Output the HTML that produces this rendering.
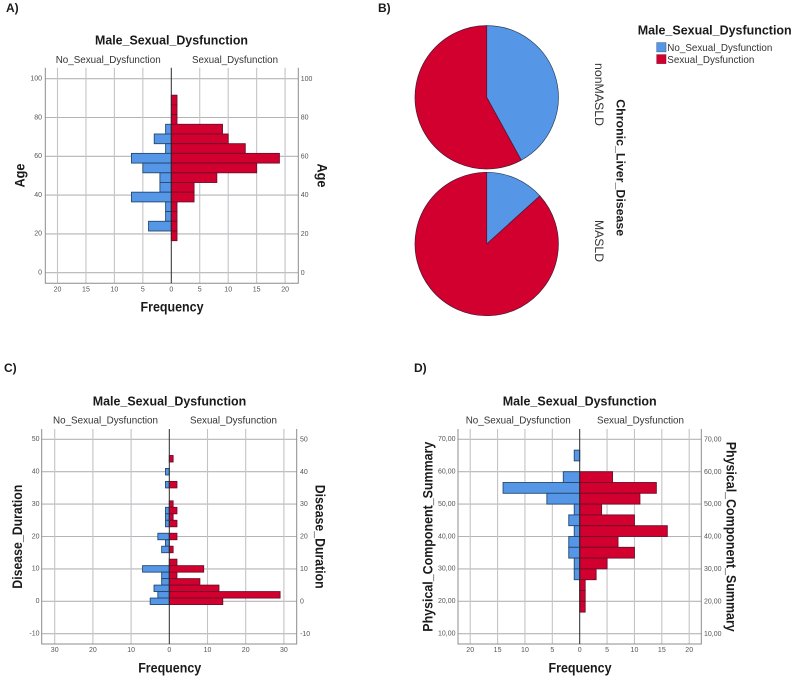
<!DOCTYPE html>
<html lang="en">
<head>
<meta charset="utf-8">
<title>Male Sexual Dysfunction charts</title>
<style>
html,body{margin:0;padding:0;background:#fff;width:792px;height:676px;overflow:hidden}
svg{display:block;filter:blur(.3px)}
text{font-family:"Liberation Sans",sans-serif;fill:#1a1a1a}
.title{font-size:13px;font-weight:bold}
.panel{font-size:12px;font-weight:bold}
.sub{font-size:10.5px;fill:#333}
.tick{font-size:7px;fill:#555}
.axis{font-size:13.5px;font-weight:bold}
</style>
</head>
<body>
<svg id="figure" xmlns="http://www.w3.org/2000/svg" width="792" height="676" viewBox="0 0 792 676">
  <rect width="792" height="676" fill="#fff"/>

  <text class="panel" x="6" y="12">A)</text>
  <g id="panel-a"></g>
  <text class="title" x="171.5" y="40" text-anchor="middle" dominant-baseline="central" textLength="153" lengthAdjust="spacingAndGlyphs">Male_Sexual_Dysfunction</text>
  <text class="sub" x="55.7" y="60" dominant-baseline="central" textLength="105" lengthAdjust="spacingAndGlyphs">No_Sexual_Dysfunction</text>
  <text class="sub" x="192" y="60" dominant-baseline="central" textLength="86" lengthAdjust="spacingAndGlyphs">Sexual_Dysfunction</text>
  <text class="axis" transform="translate(20,175.5) rotate(-90)" text-anchor="middle" dominant-baseline="central" textLength="24" lengthAdjust="spacingAndGlyphs">Age</text>
  <text class="axis" transform="translate(322,175.5) rotate(90)" text-anchor="middle" dominant-baseline="central" textLength="24" lengthAdjust="spacingAndGlyphs">Age</text>
  <text class="axis" x="172" y="307" text-anchor="middle" dominant-baseline="central" textLength="63" lengthAdjust="spacingAndGlyphs">Frequency</text>

  <text class="panel" x="378" y="12">B)</text>
  <g id="panel-b"></g>
  <text class="sub" transform="translate(598,94.5) rotate(90)" text-anchor="middle" dominant-baseline="central" textLength="63" lengthAdjust="spacingAndGlyphs" style="font-size:11.5px">nonMASLD</text>
  <text class="sub" transform="translate(598,241) rotate(90)" text-anchor="middle" dominant-baseline="central" textLength="42" lengthAdjust="spacingAndGlyphs" style="font-size:11.5px">MASLD</text>
  <text class="title" transform="translate(620.3,167.7) rotate(90)" text-anchor="middle" dominant-baseline="central" textLength="137" lengthAdjust="spacingAndGlyphs" style="font-size:12px">Chronic_Liver_Disease</text>
  <g>
    <text class="title" x="637.7" y="30" dominant-baseline="central" textLength="154" lengthAdjust="spacingAndGlyphs">Male_Sexual_Dysfunction</text>
    <rect x="656.7" y="42.6" width="9.3" height="9.3" fill="#5596e6" stroke="#33597f" stroke-width=".5"/>
    <text class="sub" x="667.3" y="48" dominant-baseline="central" textLength="105" lengthAdjust="spacingAndGlyphs">No_Sexual_Dysfunction</text>
    <rect x="656.7" y="54.6" width="9.3" height="9" fill="#d1002f" stroke="#7a1030" stroke-width=".5"/>
    <text class="sub" x="667.3" y="60" dominant-baseline="central" textLength="87" lengthAdjust="spacingAndGlyphs">Sexual_Dysfunction</text>
  </g>

  <text class="panel" x="4" y="372">C)</text>
  <g id="panel-c"></g>
  <text class="title" x="169.5" y="401" text-anchor="middle" dominant-baseline="central" textLength="153.5" lengthAdjust="spacingAndGlyphs">Male_Sexual_Dysfunction</text>
  <text class="sub" x="53" y="420.7" dominant-baseline="central" textLength="105" lengthAdjust="spacingAndGlyphs">No_Sexual_Dysfunction</text>
  <text class="sub" x="190" y="420.7" dominant-baseline="central" textLength="87" lengthAdjust="spacingAndGlyphs">Sexual_Dysfunction</text>
  <text class="axis" transform="translate(17.5,536.7) rotate(-90)" text-anchor="middle" dominant-baseline="central" textLength="104" lengthAdjust="spacingAndGlyphs">Disease_Duration</text>
  <text class="axis" transform="translate(320,536.7) rotate(90)" text-anchor="middle" dominant-baseline="central" textLength="104" lengthAdjust="spacingAndGlyphs">Disease_Duration</text>
  <text class="axis" x="169.7" y="668" text-anchor="middle" dominant-baseline="central" textLength="63" lengthAdjust="spacingAndGlyphs">Frequency</text>

  <text class="panel" x="414" y="372">D)</text>
  <g id="panel-d"></g>
  <text class="title" x="579.7" y="401" text-anchor="middle" dominant-baseline="central" textLength="154" lengthAdjust="spacingAndGlyphs">Male_Sexual_Dysfunction</text>
  <text class="sub" x="465.7" y="420.7" dominant-baseline="central" textLength="105" lengthAdjust="spacingAndGlyphs">No_Sexual_Dysfunction</text>
  <text class="sub" x="597" y="420.7" dominant-baseline="central" textLength="87" lengthAdjust="spacingAndGlyphs">Sexual_Dysfunction</text>
  <text class="axis" transform="translate(428,536.7) rotate(-90)" text-anchor="middle" dominant-baseline="central" textLength="190" lengthAdjust="spacingAndGlyphs">Physical_Component_Summary</text>
  <text class="axis" transform="translate(731,536.7) rotate(90)" text-anchor="middle" dominant-baseline="central" textLength="190" lengthAdjust="spacingAndGlyphs">Physical_Component_Summary</text>
  <text class="axis" x="580" y="668" text-anchor="middle" dominant-baseline="central" textLength="63" lengthAdjust="spacingAndGlyphs">Frequency</text>
</svg>
<script>
// Panel A: Age
const ageBinCenters = [89,84,79,74,69,64,59,54,49,44,39,34,29,24,19];
const ageBinWidth = 5;
const ageNoDysfunction = [0,0,0,1,3,1,7,5,2,2,7,1,1,4,0];
const ageDysfunction = [1,1,1,9,10,13,19,15,8,4,4,1,1,1,1];
const ageValueTicks = [0,20,40,60,80,100];
const ageValueLabels = ['0','20','40','60','80','100'];
const ageFreqTicks = [5,10,15,20];

// Panel B: pies (percent of each group)
const pieGroups = ['nonMASLD','MASLD'];
const pieNoDysfunction = [42,13.3];
const pieDysfunction = [58,86.7];

// Panel C: Disease duration
const durationBinCenters = [44,42,40,38,36,34,32,30,28,26,24,22,20,18,16,14,12,10,8,6,4,2,0];
const durationBinWidth = 2;
const durationNoDysfunction = [0,0,1,0,1,0,0,0,1,1,1,0,3,1,2,0,0,7,2,2,4,3,5];
const durationDysfunction = [1,0,0,0,2,0,0,1,2,1,2,0,2,0,1,0,2,9,2,8,13,29,14];
const durationValueTicks = [-10,0,10,20,30,40,50];
const durationValueLabels = ['-10','0','10','20','30','40','50'];
const durationFreqTicks = [10,20,30];

// Panel D: Physical component summary
const physicalBinCenters = [65,61.67,58.33,55,51.67,48.33,45,41.67,38.33,35,31.67,28.33,25,21.67,18.33];
const physicalBinWidth = 3.33;
const physicalNoDysfunction = [1,0,3,14,6,1,2,1,2,2,1,1,0,0,0];
const physicalDysfunction = [0,0,6,14,11,4,10,16,7,10,5,3,1,1,1];
const physicalValueTicks = [10,20,30,40,50,60,70];
const physicalValueLabels = ['10,00','20,00','30,00','40,00','50,00','60,00','70,00'];
const physicalFreqTicks = [5,10,15,20];

const NS = 'http://www.w3.org/2000/svg';
const BLUE = '#5596e6', RED = '#d1002f', BLUE_EDGE = '#24496f', RED_EDGE = '#6e0d2c';

function make(parent, tag, attrs, content) {
  const el = document.createElementNS(NS, tag);
  for (const k in attrs) el.setAttribute(k, attrs[k]);
  if (content !== undefined) el.textContent = content;
  parent.appendChild(el);
  return el;
}

function drawPyramid(id, prefix, centers, binWidth, leftVals, rightVals, valueTicks, valueLabels, freqTicks, layout) {
  const g = document.getElementById(id);
  const xScale = v => layout.cx + v * layout.pxPerFreq;
  const yScale = v => layout.yRefPx + (layout.yRef - v) * layout.pxPerValue;

  // value gridlines and labels
  valueTicks.forEach((t, i) => {
    const y = yScale(t);
    const grid = make(g, 'line', {x1: layout.left, x2: layout.right, y1: y, y2: y, stroke: '#b4b4b8', 'stroke-width': 1.1});
    
    
    const ll = make(g, 'text', {class: 'tick', x: layout.labelLeft, y: y + 0.3, 'text-anchor': 'end', 'dominant-baseline': 'central'}, valueLabels[i]);
    
    
    const lr = make(g, 'text', {class: 'tick', x: layout.labelRight, y: y + 0.6, 'dominant-baseline': 'central'}, valueLabels[i]);
    
    
  });

  // frequency gridlines and labels on both sides
  freqTicks.forEach(t => {
    [-t, t].forEach(v => {
      const x = xScale(v);
      const grid = make(g, 'line', {x1: x, x2: x, y1: layout.top, y2: layout.bottom, stroke: '#c4c4c8', 'stroke-width': 1.1});
      
      
      const lab = make(g, 'text', {class: 'tick', x: x, y: layout.tickY, 'text-anchor': 'middle', 'dominant-baseline': 'central'}, t);
      
      
    });
  });
  const zero = make(g, 'text', {class: 'tick', x: layout.cx, y: layout.tickY, 'text-anchor': 'middle', 'dominant-baseline': 'central'}, '0');
  
  

  // frame
  const frame = make(g, 'path', {d: 'M' + layout.left + ' ' + layout.top + 'V' + layout.bottom + 'H' + layout.right + 'V' + layout.top, fill: 'none', stroke: '#8c8c8c', 'stroke-width': 1});
  
  

  // bars
  centers.forEach((c, i) => {
    const yTop = yScale(c + binWidth / 2);
    const h = binWidth * layout.pxPerValue;
    if (leftVals[i] > 0) {
      const w = xScale(leftVals[i]) - layout.cx;
      const b = make(g, 'rect', {x: layout.cx - w, y: yTop, width: w, height: h, fill: BLUE, stroke: BLUE_EDGE, 'stroke-width': .9});
      
      
    }
    if (rightVals[i] > 0) {
      const w = xScale(rightVals[i]) - layout.cx;
      const b = make(g, 'rect', {x: layout.cx, y: yTop, width: w, height: h, fill: RED, stroke: RED_EDGE, 'stroke-width': .9});
      
      
    }
  });

  // centre axis
  const axis = make(g, 'line', {x1: layout.cx, x2: layout.cx, y1: layout.top, y2: layout.bottom, stroke: '#2a2a2a', 'stroke-width': 1});
  
  
}

function drawPie(parent, name, noVal, yesVal, cx, cy, r) {
  const frac = noVal / (noVal + yesVal);
  const a = frac * 2 * Math.PI;
  const px = cx + r * Math.sin(a), py = cy - r * Math.cos(a);
  const large = frac > .5 ? 1 : 0;
  const blue = make(parent, 'path', {
    d: 'M' + cx + ' ' + cy + 'L' + cx + ' ' + (cy - r) + 'A' + r + ' ' + r + ' 0 ' + large + ' 1 ' + px + ' ' + py + 'Z',
    fill: BLUE, stroke: '#2b3f5c', 'stroke-width': .7});
  
  
  const red = make(parent, 'path', {
    d: 'M' + cx + ' ' + cy + 'L' + px + ' ' + py + 'A' + r + ' ' + r + ' 0 ' + (1 - large) + ' 1 ' + cx + ' ' + (cy - r) + 'Z',
    fill: RED, stroke: '#4a1a34', 'stroke-width': .7});
  
  
}

drawPyramid('panel-a', 'age', ageBinCenters, ageBinWidth, ageNoDysfunction, ageDysfunction, ageValueTicks, ageValueLabels, ageFreqTicks,
  {cx: 171.3, pxPerFreq: 5.69, yRef: 0, yRefPx: 272.7, pxPerValue: 1.94, left: 45.3, right: 298.3, top: 67.7, bottom: 283.3, labelLeft: 42, labelRight: 300.7, tickY: 290});
drawPyramid('panel-c', 'duration', durationBinCenters, durationBinWidth, durationNoDysfunction, durationDysfunction, durationValueTicks, durationValueLabels, durationFreqTicks,
  {cx: 169.3, pxPerFreq: 3.82, yRef: 0, yRefPx: 601.3, pxPerValue: 3.24, left: 41.7, right: 296.7, top: 429, bottom: 644, labelLeft: 39.5, labelRight: 300, tickY: 650.7});
drawPyramid('panel-d', 'physical', physicalBinCenters, physicalBinWidth, physicalNoDysfunction, physicalDysfunction, physicalValueTicks, physicalValueLabels, physicalFreqTicks,
  {cx: 579.7, pxPerFreq: 5.475, yRef: 10, yRefPx: 633.7, pxPerValue: 3.24, left: 458, right: 701.3, top: 429, bottom: 644, labelLeft: 455.5, labelRight: 704, tickY: 650.7});

const pieCenters = {nonMASLD: 97.3, MASLD: 244};
const pieRoot = document.getElementById('panel-b');
pieGroups.forEach((name, i) => {
  drawPie(pieRoot, name, pieNoDysfunction[i], pieDysfunction[i], 486.7, pieCenters[name], 71.7);
});
</script>
</body>
</html>
